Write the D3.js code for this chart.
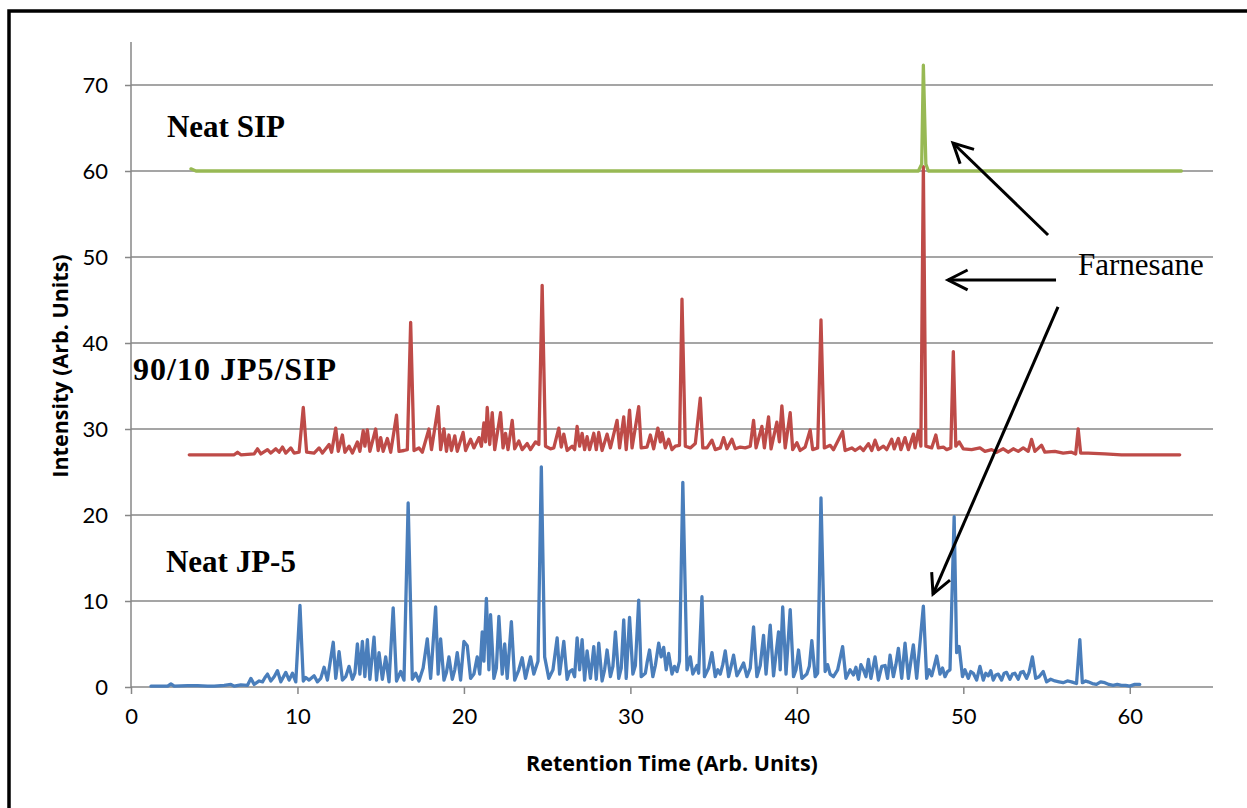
<!DOCTYPE html>
<html>
<head>
<meta charset="utf-8">
<script src="https://cdn.jsdelivr.net/npm/d3@7"></script>
<style>
  html, body { margin: 0; padding: 0; background: #fff; }
  svg { display: block; }
</style>
</head>
<body>
<svg id="chart" width="1247" height="808"></svg>
<script>
// ---------- DATA ----------
const xTicks = [0, 10, 20, 30, 40, 50, 60];
const yTicks = [0, 10, 20, 30, 40, 50, 60, 70];

// Neat JP-5 trace (retention time, intensity)
const jp5Time = [1.2, 2.2, 2.4, 2.6, 3.4, 4.0, 4.6, 5.0, 5.6, 6.0, 6.2, 6.6, 7.0, 7.2, 7.4, 7.7, 7.9, 8.05, 8.2, 8.4, 8.6, 8.8, 9.0, 9.3, 9.5, 9.7, 9.9, 10.15, 10.35, 10.5, 10.7, 11.0, 11.2, 11.4, 11.6, 11.8, 12.15, 12.3, 12.5, 12.7, 12.9, 13.1, 13.3, 13.45, 13.6, 13.75, 13.9, 14.05, 14.2, 14.35, 14.6, 14.75, 14.9, 15.1, 15.3, 15.5, 15.75, 15.95, 16.2, 16.4, 16.65, 16.9, 17.1, 17.3, 17.55, 17.8, 18.0, 18.3, 18.45, 18.6, 18.8, 18.95, 19.1, 19.3, 19.45, 19.6, 19.8, 20.0, 20.2, 20.4, 20.6, 20.8, 20.95, 21.1, 21.2, 21.35, 21.5, 21.6, 21.8, 21.95, 22.1, 22.3, 22.45, 22.6, 22.85, 23.05, 23.3, 23.5, 23.7, 24.0, 24.2, 24.45, 24.65, 24.85, 25.1, 25.35, 25.6, 25.75, 26.0, 26.2, 26.35, 26.5, 26.65, 26.8, 26.95, 27.1, 27.25, 27.4, 27.6, 27.8, 27.95, 28.1, 28.3, 28.45, 28.6, 28.8, 28.95, 29.1, 29.3, 29.45, 29.6, 29.75, 29.95, 30.15, 30.3, 30.5, 30.65, 30.9, 31.0, 31.15, 31.35, 31.5, 31.7, 31.85, 32.0, 32.15, 32.3, 32.5, 32.65, 32.8, 32.95, 33.15, 33.4, 33.6, 33.75, 34.0, 34.1, 34.3, 34.45, 34.7, 34.9, 35.1, 35.25, 35.4, 35.55, 35.7, 35.9, 36.05, 36.2, 36.4, 36.6, 36.8, 37.0, 37.2, 37.4, 37.6, 37.8, 38.0, 38.15, 38.4, 38.6, 38.9, 39.0, 39.15, 39.35, 39.6, 39.8, 39.95, 40.1, 40.3, 40.6, 40.75, 40.9, 41.1, 41.25, 41.45, 41.7, 41.85, 42.0, 42.2, 42.45, 42.75, 42.95, 43.2, 43.4, 43.55, 43.7, 43.85, 44.0, 44.15, 44.3, 44.45, 44.7, 44.9, 45.1, 45.3, 45.45, 45.6, 45.8, 45.95, 46.1, 46.3, 46.5, 46.7, 46.85, 47.0, 47.2, 47.6, 47.8, 47.95, 48.1, 48.25, 48.4, 48.6, 48.75, 48.9, 49.05, 49.2, 49.45, 49.6, 49.75, 49.95, 50.1, 50.3, 50.45, 50.6, 50.8, 51.0, 51.2, 51.35, 51.5, 51.65, 51.8, 51.95, 52.1, 52.3, 52.45, 52.6, 52.8, 52.95, 53.1, 53.3, 53.45, 53.6, 53.8, 53.95, 54.15, 54.35, 54.55, 54.8, 55.0, 55.25, 55.5, 55.75, 56.0, 56.25, 56.5, 56.8, 57.0, 57.15, 57.35, 57.5, 57.75, 58.0, 58.25, 58.5, 58.75, 59.0, 59.25, 59.5, 59.75, 60.0, 60.3, 60.6];
const jp5Intensity = [0.1, 0.1, 0.35, 0.1, 0.15, 0.15, 0.1, 0.1, 0.2, 0.3, 0.1, 0.25, 0.2, 1.0, 0.3, 0.7, 0.6, 1.1, 1.5, 0.7, 1.2, 1.9, 0.6, 1.7, 0.8, 1.6, 0.6, 9.5, 0.7, 1.1, 0.8, 1.3, 0.6, 1.0, 2.3, 0.8, 5.2, 1.0, 4.1, 0.8, 1.2, 2.4, 0.9, 1.6, 5.0, 1.5, 5.3, 1.2, 5.5, 0.9, 5.8, 0.8, 4.0, 0.9, 3.5, 0.6, 9.2, 0.7, 1.8, 0.8, 21.4, 0.9, 1.6, 0.7, 2.2, 5.6, 1.0, 9.3, 1.5, 5.6, 0.8, 1.7, 3.5, 0.9, 2.0, 4.0, 0.8, 5.3, 4.8, 1.0, 1.5, 3.5, 1.5, 6.4, 3.0, 10.3, 2.0, 8.4, 1.0, 2.2, 8.2, 1.5, 5.0, 1.0, 7.6, 0.8, 2.0, 3.4, 1.0, 3.5, 1.5, 3.0, 25.6, 3.5, 1.0, 2.0, 5.7, 1.5, 5.3, 0.9, 1.8, 2.0, 1.2, 5.7, 2.0, 5.5, 0.8, 4.2, 1.0, 4.7, 0.9, 5.1, 0.7, 2.0, 4.3, 1.2, 2.4, 6.4, 1.0, 2.2, 7.8, 1.0, 8.1, 1.5, 2.5, 10.1, 1.2, 1.6, 2.8, 4.3, 1.2, 2.5, 5.1, 3.5, 4.6, 2.0, 3.9, 1.5, 2.4, 1.8, 3.0, 23.8, 2.0, 3.5, 1.5, 2.5, 1.6, 10.5, 1.2, 2.2, 4.0, 1.2, 2.0, 1.5, 2.6, 4.2, 1.2, 2.4, 3.7, 1.3, 2.0, 2.8, 1.2, 2.2, 7.0, 1.2, 2.5, 6.0, 1.5, 7.2, 1.3, 6.4, 2.0, 9.3, 1.5, 9.0, 1.2, 2.0, 4.3, 1.0, 1.5, 2.4, 5.4, 1.2, 1.6, 22.0, 1.8, 2.6, 1.5, 1.2, 2.0, 4.7, 1.0, 2.0, 1.4, 2.3, 0.9, 2.6, 2.0, 1.2, 3.2, 1.0, 3.5, 0.8, 2.4, 2.5, 1.0, 3.7, 1.2, 2.6, 4.5, 1.0, 5.1, 1.0, 3.0, 4.9, 1.0, 9.4, 1.0, 2.0, 1.3, 2.4, 3.6, 1.5, 2.2, 1.2, 1.8, 2.0, 19.8, 4.0, 4.7, 1.2, 2.0, 1.0, 1.8, 1.6, 0.8, 2.4, 0.8, 1.6, 1.3, 1.9, 0.8, 1.4, 1.5, 0.8, 1.6, 1.7, 0.9, 1.5, 1.6, 0.9, 1.7, 1.8, 1.0, 1.7, 3.5, 1.0, 1.2, 1.8, 0.6, 0.9, 0.7, 0.6, 0.5, 0.7, 0.6, 0.4, 5.5, 0.5, 0.7, 0.6, 0.4, 0.3, 0.6, 0.5, 0.3, 0.2, 0.3, 0.2, 0.2, 0.1, 0.3, 0.3];

// 90/10 JP5/SIP trace
const blendTime = [3.5, 5.0, 6.2, 6.4, 6.6, 7.4, 7.6, 7.8, 8.2, 8.4, 8.7, 8.9, 9.1, 9.3, 9.6, 9.8, 10.1, 10.35, 10.55, 11.0, 11.3, 11.5, 11.9, 12.05, 12.3, 12.45, 12.7, 12.85, 13.1, 13.3, 13.6, 13.75, 13.95, 14.05, 14.2, 14.35, 14.7, 14.85, 15.0, 15.15, 15.4, 15.6, 15.95, 16.1, 16.4, 16.6, 16.8, 17.0, 17.3, 17.5, 17.9, 18.05, 18.45, 18.6, 18.8, 18.95, 19.1, 19.25, 19.45, 19.6, 19.95, 20.1, 20.4, 20.6, 20.9, 21.05, 21.2, 21.3, 21.4, 21.55, 21.7, 21.85, 22.2, 22.35, 22.5, 22.65, 22.9, 23.05, 23.3, 23.5, 23.8, 24.0, 24.3, 24.5, 24.7, 24.9, 25.2, 25.4, 25.7, 25.85, 26.0, 26.2, 26.5, 26.65, 26.8, 26.95, 27.1, 27.25, 27.4, 27.55, 27.8, 27.95, 28.1, 28.3, 28.6, 28.8, 29.2, 29.35, 29.6, 29.75, 29.95, 30.1, 30.5, 30.65, 31.0, 31.2, 31.4, 31.65, 31.8, 31.9, 32.1, 32.3, 32.5, 32.7, 32.95, 33.1, 33.3, 33.6, 33.9, 34.2, 34.35, 34.6, 34.9, 35.1, 35.4, 35.6, 35.8, 36.1, 36.3, 36.6, 36.9, 37.2, 37.4, 37.55, 37.9, 38.05, 38.3, 38.45, 38.8, 38.95, 39.1, 39.3, 39.6, 39.75, 40.0, 40.2, 40.5, 40.8, 40.95, 41.25, 41.45, 41.65, 42.0, 42.2, 42.75, 42.9, 43.3, 43.5, 43.8, 44.0, 44.3, 44.5, 44.7, 44.9, 45.2, 45.4, 45.7, 45.85, 46.1, 46.25, 46.5, 46.7, 47.0, 47.1, 47.3, 47.45, 47.6, 47.75, 48.1, 48.35, 48.5, 48.8, 49.0, 49.25, 49.4, 49.55, 49.75, 50.0, 50.5, 51.0, 51.3, 51.7, 52.0, 52.4, 52.7, 53.0, 53.3, 53.6, 53.9, 54.1, 54.3, 54.7, 54.9, 55.5, 56.0, 56.5, 56.75, 56.9, 57.05, 57.5, 58.5, 59.5, 60.5, 61.5, 63.0];
const blendIntensity = [27.0, 27.0, 27.0, 27.3, 27.0, 27.1, 27.7, 27.1, 27.6, 27.2, 27.7, 27.3, 27.9, 27.2, 27.8, 27.2, 27.3, 32.5, 27.3, 27.2, 27.8, 27.2, 28.2, 27.3, 30.1, 27.4, 29.3, 27.3, 28.0, 27.2, 28.5, 27.4, 29.8, 28.0, 29.9, 27.4, 30.0, 27.5, 29.0, 27.4, 28.9, 27.3, 31.6, 27.4, 27.5, 27.6, 42.4, 27.5, 27.8, 27.3, 30.0, 27.6, 32.6, 27.6, 30.0, 27.4, 29.3, 27.5, 29.2, 27.4, 29.6, 27.5, 28.8, 27.8, 29.0, 28.0, 30.7, 28.5, 32.5, 28.2, 31.9, 27.6, 31.9, 27.8, 29.5, 27.6, 31.0, 27.7, 28.6, 27.6, 28.3, 27.6, 28.5, 28.2, 46.7, 28.0, 27.7, 27.8, 30.1, 27.9, 29.4, 27.5, 28.0, 27.6, 30.3, 28.0, 29.5, 27.6, 29.1, 27.6, 29.5, 27.6, 29.6, 27.5, 29.4, 27.8, 31.0, 27.8, 31.4, 27.6, 32.2, 27.8, 32.6, 27.8, 27.9, 29.3, 27.7, 30.1, 28.5, 29.6, 27.8, 28.8, 27.6, 28.0, 28.1, 45.1, 28.0, 27.8, 28.3, 33.6, 27.8, 27.8, 28.7, 27.6, 27.8, 29.0, 27.7, 28.8, 27.7, 27.9, 27.8, 28.0, 31.0, 27.8, 30.3, 27.8, 31.4, 27.7, 30.8, 28.5, 32.7, 27.8, 31.9, 27.6, 28.4, 27.5, 27.9, 29.9, 27.6, 27.8, 42.7, 27.8, 28.1, 27.6, 29.7, 27.5, 27.8, 27.5, 27.9, 27.5, 28.3, 27.5, 28.7, 27.6, 28.0, 27.6, 28.8, 27.7, 28.9, 27.6, 29.0, 27.6, 29.4, 27.8, 29.8, 28.0, 60.5, 28.0, 27.8, 29.3, 27.8, 27.9, 27.6, 27.8, 39.0, 28.0, 28.5, 27.7, 27.6, 27.8, 27.4, 27.6, 27.3, 27.7, 27.3, 27.7, 27.4, 27.8, 27.4, 28.8, 27.4, 28.1, 27.3, 27.4, 27.2, 27.3, 27.1, 30.0, 27.2, 27.2, 27.1, 27.0, 27.0, 27.0, 27.0];

// Neat SIP trace
const sipTime = [3.6, 3.9, 10, 20, 30, 40, 47.3, 47.5, 47.6, 47.75, 47.9, 55, 63.1];
const sipIntensity = [60.25, 60.0, 60.0, 60.0, 60.0, 60.0, 60.0, 60.8, 72.3, 60.8, 60.0, 60.0, 60.0];

const seriesNames = ["Neat JP-5", "90/10 JP5/SIP", "Neat SIP"];
const seriesColors = ["#4a7ebb", "#be4b48", "#98b954"];

// Annotations (data coordinates)
const labelText = ["Neat SIP", "90/10 JP5/SIP", "Neat JP-5", "Farnesane"];
const labelTime = [2.16, 0.12, 2.1, 56.89];
const labelValue = [63.95, 35.7, 13.37, 47.9];
const labelBold = [true, true, true, false];

const arrowFrom = [[55.09, 52.56], [55.57, 47.33], [55.69, 44.19]];
const arrowTo = [[49.38, 63.26], [49.08, 47.33], [48.18, 10.81]];

// ---------- DRAWING ----------
const svg = d3.select("#chart");
const plotLeft = 131, plotRight = 1213, plotTop = 42, plotBottom = 687;
const x = d3.scaleLinear().domain([0, 65]).range([plotLeft, plotRight]);
const y = d3.scaleLinear().domain([0, 75]).range([plotBottom, plotTop]);

// outer border
svg.append("rect")
  .attr("x", 9).attr("y", 11)
  .attr("width", 1300).attr("height", 900)
  .attr("fill", "#fff").attr("stroke", "#000").attr("stroke-width", 3.5);

const axisFont = "Lato, 'Open Sans', sans-serif";
const titleFont = "'Open Sans', Lato, sans-serif";
const gray = "#878787";

// gridlines
svg.append("g").selectAll("line").data(yTicks.filter(d => d > 0)).join("line")
  .attr("x1", plotLeft).attr("x2", plotRight)
  .attr("y1", d => y(d)).attr("y2", d => y(d))
  .attr("stroke", gray).attr("stroke-width", 1.5);

// Y axis
const yAxis = d3.axisLeft(y).tickValues(yTicks).tickSize(6).tickPadding(17).tickFormat(d3.format("d"));
const gy = svg.append("g").attr("transform", `translate(${plotLeft},0)`).call(yAxis);
gy.select(".domain").attr("stroke", gray).attr("stroke-width", 1.5).attr("d", `M0,${plotBottom}V${plotTop}`);
gy.selectAll(".tick line").attr("stroke", gray).attr("stroke-width", 1.5);
gy.selectAll(".tick text").attr("font-family", axisFont).attr("font-size", 22).attr("fill", "#000");

// X axis
const xAxis = d3.axisBottom(x).tickValues(xTicks).tickSize(7).tickPadding(14).tickFormat(d3.format("d"));
const gx = svg.append("g").attr("transform", `translate(0,${plotBottom})`).call(xAxis);
gx.select(".domain").attr("stroke", gray).attr("stroke-width", 1.5).attr("d", `M${plotLeft},0H${plotRight}`);
gx.selectAll(".tick line").attr("stroke", gray).attr("stroke-width", 1.5);
gx.selectAll(".tick text").attr("font-family", axisFont).attr("font-size", 22).attr("fill", "#000");

// axis titles
svg.append("text")
  .attr("x", (plotLeft + plotRight) / 2).attr("y", 771)
  .attr("text-anchor", "middle")
  .attr("font-family", titleFont).attr("font-weight", "bold").attr("font-size", 21.5)
  .text("Retention Time (Arb. Units)");
svg.append("text")
  .attr("transform", "translate(68,366) rotate(-90)")
  .attr("text-anchor", "middle")
  .attr("font-family", titleFont).attr("font-weight", "bold").attr("font-size", 21.5)
  .text("Intensity (Arb. Units)");

// traces
const traces = [
  { t: jp5Time, v: jp5Intensity },
  { t: blendTime, v: blendIntensity },
  { t: sipTime, v: sipIntensity }
];
const line = d3.line().x(d => x(d[0])).y(d => y(d[1]));
traces.forEach((s, i) => {
  const pts = s.t.map((t, k) => [t, s.v[k]]);
  svg.append("path")
    .datum(pts)
    .attr("d", line)
    .attr("fill", "none")
    .attr("stroke", seriesColors[i])
    .attr("stroke-width", 3.3)
    .attr("stroke-linejoin", "round")
    .attr("stroke-linecap", "round")
    .attr("class", "series")
    .attr("data-name", seriesNames[i]);
});

// labels
labelText.forEach((txt, i) => {
  svg.append("text")
    .attr("x", x(labelTime[i])).attr("y", y(labelValue[i]))
    .attr("font-family", "'Liberation Serif', 'Times New Roman', serif")
    .attr("font-weight", labelBold[i] ? "bold" : "normal")
    .attr("font-size", txt === "90/10 JP5/SIP" ? 32 : 31)
    .attr("letter-spacing", txt === "90/10 JP5/SIP" ? 1 : 0)
    .attr("fill", "#000")
    .text(txt);
});

// arrows
const headLen = 22, headAng = 27 * Math.PI / 180;
arrowFrom.forEach((f, i) => {
  const x1 = x(f[0]), y1 = y(f[1]);
  const x2 = x(arrowTo[i][0]), y2 = y(arrowTo[i][1]);
  svg.append("line")
    .attr("x1", x1).attr("y1", y1).attr("x2", x2).attr("y2", y2)
    .attr("stroke", "#000").attr("stroke-width", 3);
  const ang = Math.atan2(y1 - y2, x1 - x2);
  const a1 = ang + headAng, a2 = ang - headAng;
  svg.append("path")
    .attr("d", `M${x2 + headLen * Math.cos(a1)},${y2 + headLen * Math.sin(a1)}L${x2},${y2}L${x2 + headLen * Math.cos(a2)},${y2 + headLen * Math.sin(a2)}`)
    .attr("fill", "none").attr("stroke", "#000").attr("stroke-width", 3)
    .attr("stroke-linejoin", "miter");
});
</script>
</body>
</html>
